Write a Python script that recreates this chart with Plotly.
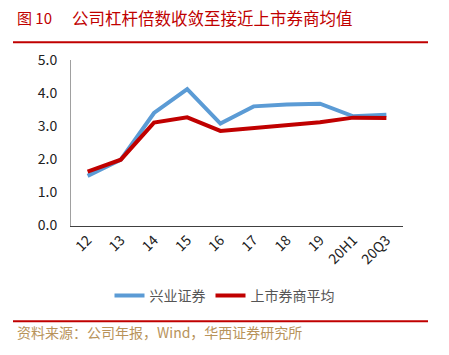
import plotly.graph_objects as go

categories = ["12", "13", "14", "15", "16", "17", "18", "19", "20H1", "20Q3"]
xingye = [1.50, 1.99, 3.40, 4.12, 3.08, 3.60, 3.66, 3.68, 3.30, 3.35]
avg = [1.63, 1.99, 3.11, 3.27, 2.86, 2.94, 3.04, 3.12, 3.26, 3.25]
y_ticks = [0, 1, 2, 3, 4, 5]

W, H = 449, 355
font = "Noto Sans CJK SC, Noto Sans, sans-serif"

fig = go.Figure()
fig.add_trace(go.Scatter(x=categories, y=xingye, mode="lines", name="兴业证券",
                         line=dict(color="#5B9BD5", width=4)))
fig.add_trace(go.Scatter(x=categories, y=avg, mode="lines", name="上市券商平均",
                         line=dict(color="#C00000", width=4)))

fig.update_layout(
    width=W, height=H,
    margin=dict(l=71, r=46, t=60, b=127),
    paper_bgcolor="white", plot_bgcolor="white",
    font=dict(family=font, size=13, color="#222222"),
    showlegend=True,
    legend=dict(orientation="h", x=0.5, xanchor="center", xref="container",
                y=1 - 296 / H, yanchor="middle", yref="container",
                font=dict(size=14, color="#555555"), itemwidth=30,
                traceorder="normal"),
    xaxis=dict(type="category", showgrid=False, showline=True, linecolor="#404040",
               linewidth=1, ticks="", tickangle=-45, tickfont=dict(size=14, color="#222222"),
               range=[-0.5, len(categories) - 0.5]),
    yaxis=dict(range=[0, 5], tickvals=y_ticks, tickformat=".1f", showgrid=False,
               showline=True, linecolor="#A0A0A0", linewidth=1, ticks="",
               zeroline=False, tickfont=dict(size=14, color="#222222"), ticklabelstandoff=10),
)

pw = W - 71 - 46
ph = H - 60 - 127
def px(x):
    return (x - 71) / pw
def py(y):
    return (228 - y) / ph

fig.add_annotation(text="图 10", xref="paper", yref="paper",
                   x=px(15), y=py(17), xanchor="left", yanchor="middle", showarrow=False,
                   font=dict(size=15, color="#C00000", family=font))
fig.add_annotation(text="公司杠杆倍数收敛至接近上市券商均值", xref="paper", yref="paper",
                   x=px(70), y=py(17), xanchor="left", yanchor="middle", showarrow=False,
                   font=dict(size=16.5, color="#C00000", family=font))
fig.add_annotation(text="资料来源：公司年报，Wind，华西证券研究所", xref="paper", yref="paper",
                   x=px(15), y=py(336), xanchor="left", yanchor="middle", showarrow=False,
                   font=dict(size=14, color="#B8935A", family=font))

fig.add_shape(type="line", xref="paper", yref="paper", x0=px(13), x1=px(428),
              y0=py(42), y1=py(42), line=dict(color="#C00000", width=2))
fig.add_shape(type="line", xref="paper", yref="paper", x0=px(13), x1=px(428),
              y0=py(325), y1=py(325), line=dict(color="#C00000", width=2))

fig.write_html("out.html")
